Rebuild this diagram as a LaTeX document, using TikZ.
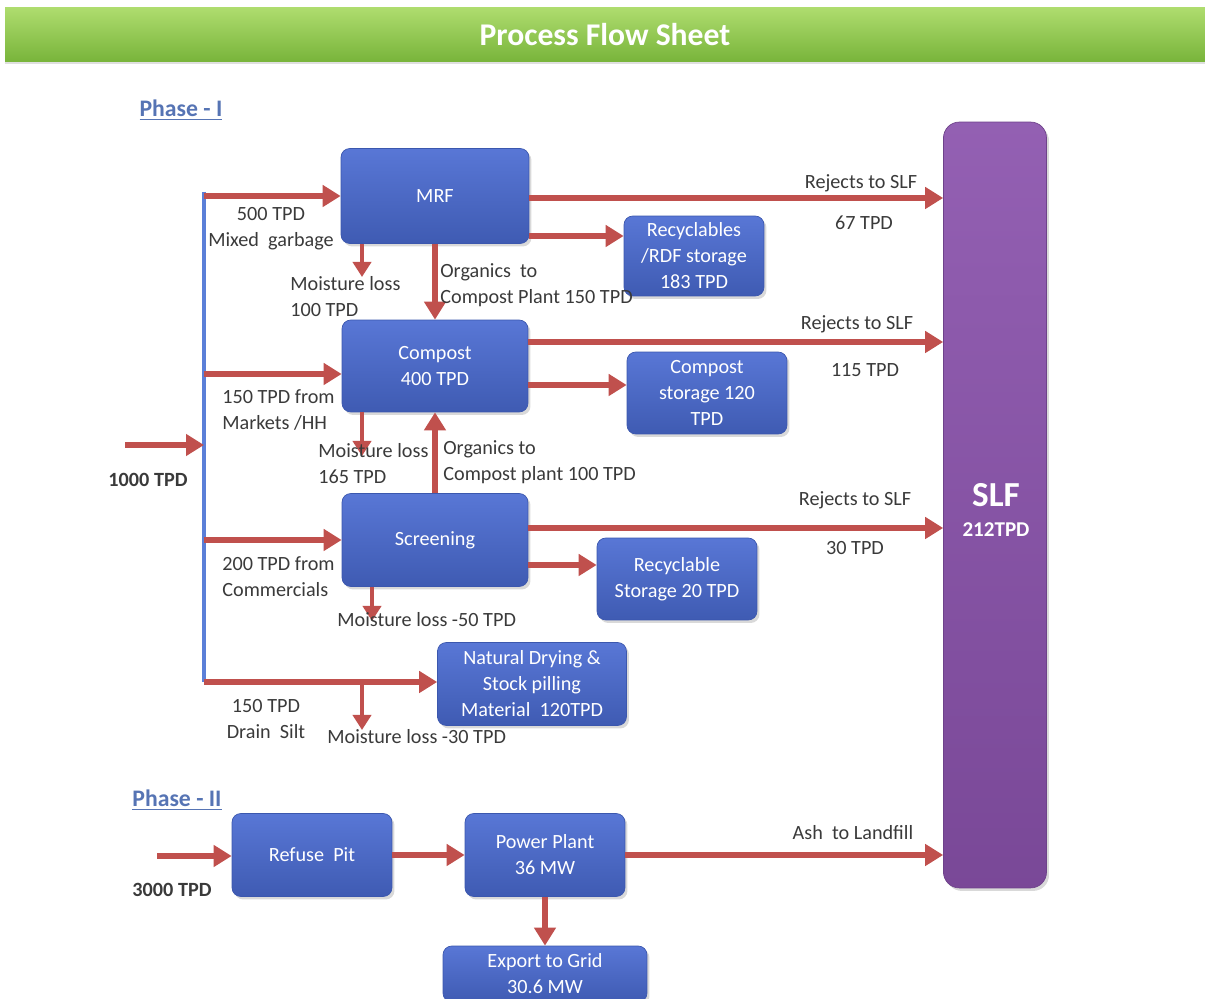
\documentclass[tikz,border=0pt]{standalone}
\usepackage{fontspec}
\setmainfont{Carlito}
\usepackage{tikz}
\usetikzlibrary{positioning,calc,arrows.meta,shadows}
\definecolor{flowred}{HTML}{C0504D}
\definecolor{boxblue}{HTML}{4A6BD2}
\definecolor{boxedge}{HTML}{3B57AE}
\definecolor{slfpurple}{HTML}{8A52AC}
\definecolor{busblue}{HTML}{5B7FD8}
\definecolor{phaseblue}{HTML}{5674B4}
\definecolor{titletop}{HTML}{AEDC6E}
\definecolor{titlebot}{HTML}{78B43A}
\definecolor{labelgray}{HTML}{3A3A3A}

\begin{document}
\begin{tikzpicture}[x=0.02cm, y=-0.02cm,
  box/.style={rectangle, rounded corners=5pt, draw=boxedge, top color=boxblue!92!white,
    bottom color=boxblue!85!black, text=white, align=center,
    font=\fontsize{11.5}{14.8}\selectfont, inner sep=2pt,
    drop shadow={opacity=0.3, shadow xshift=0.05cm, shadow yshift=-0.06cm}},
  lbl/.style={text=labelgray, align=left, inner sep=0pt, font=\fontsize{11.5}{14.8}\selectfont},
  feed/.style={text=labelgray, inner sep=0pt, font=\fontsize{11.5}{14}\selectfont\bfseries},
  phase/.style={text=phaseblue, inner sep=0pt, font=\fontsize{13.5}{16}\selectfont\bfseries},
  flow/.style={draw=flowred, line width=3.3pt, -{Triangle[length=0.36cm,width=0.42cm]}},
  loss/.style={draw=flowred, line width=2.6pt, -{Triangle[length=0.3cm,width=0.36cm]}}
]
\useasboundingbox (0,0) rectangle (1205,999);

% title bar
\node[top color=titletop, bottom color=titlebot, minimum width=24cm, minimum height=1.08cm,
  text=white, font=\fontsize{18}{20}\selectfont\bfseries,
  drop shadow={opacity=0.25, shadow xshift=0cm, shadow yshift=-0.05cm}] (title) at (605,35) {Process Flow Sheet};

\node[phase] (phaseone) at (181,110) {\underline{Phase - I}};
\node[phase] (phasetwo) at (177,800) {\underline{Phase - II}};

% phase I boxes
\node[box, minimum width=3.76cm, minimum height=1.9cm] (mrf) at (435,196) {MRF};
\node[box, minimum width=2.8cm, minimum height=1.6cm] (rdf) at (694,256) {Recyclables\\/RDF storage\\183 TPD};
\node[box, minimum width=3.72cm, minimum height=1.84cm] (comp) at (435,366) {Compost\\400 TPD};
\node[box, minimum width=3.2cm, minimum height=1.64cm] (cstore) at (707,393) {Compost\\storage 120\\TPD};
\node[box, minimum width=3.72cm, minimum height=1.86cm] (scr) at (435,540) {Screening};
\node[box, minimum width=3.2cm, minimum height=1.64cm] (rstore) at (677,579) {Recyclable\\Storage 20 TPD};
\node[box, minimum width=3.78cm, minimum height=1.66cm] (dry) at (532,684) {Natural Drying \&\\Stock pilling\\Material~~120TPD};

% phase II boxes
\node[box, minimum width=3.2cm, minimum height=1.66cm] (pit) at (312,855) {Refuse~~Pit};
\node[box, minimum width=3.2cm, minimum height=1.66cm] (power) at (545,855) {Power Plant\\36 MW};
\node[box, minimum width=4.08cm, minimum height=1.12cm] (grid) at (545,974) {Export to Grid\\30.6 MW};

% landfill
\node[rectangle, rounded corners=9pt, draw=slfpurple!80!black, top color=slfpurple!92!white,
  bottom color=slfpurple!88!black, minimum width=2.06cm, minimum height=15.32cm,
  drop shadow={opacity=0.3, shadow xshift=0.05cm, shadow yshift=-0.06cm}] (slf) at (995,505) {};
\node[text=white, font=\fontsize{20}{24}\selectfont\bfseries] (slfname) at (996,495) {SLF};
\node[text=white, font=\fontsize{12}{14}\selectfont\bfseries] (slfload) at (996,530) {212TPD};

% feed bus
\coordinate (bustop) at (204,192);
\coordinate (busbot) at (204,682);
\draw[busblue, line width=2.2pt] (bustop) -- (busbot);
\coordinate (feedin) at (125,445);
\coordinate (busin) at (204,445);
\coordinate (tapcomp) at (204,374);
\coordinate (tapscr) at (204,540);
\draw[flow] (feedin) -- (busin);
\draw[flow] (bustop |- mrf.west) -- (mrf.west);
\draw[flow] (tapcomp) -- (tapcomp -| comp.west);
\draw[flow] (tapscr) -- (tapscr -| scr.west);
\draw[flow] (busbot) -- (busbot -| dry.west);

% moisture losses
\coordinate (mrfloss) at (362,277);
\coordinate (comploss) at (362,456);
\coordinate (scrloss) at (372,621);
\coordinate (dryloss) at (362,730);
\draw[loss] (mrfloss |- mrf.south) -- (mrfloss);
\draw[loss] (comploss |- comp.south) -- (comploss);
\draw[loss] (scrloss |- scr.south) -- (scrloss);
\draw[loss] (dryloss |- busbot) -- (dryloss);

% organics
\draw[flow] (mrf.south) -- (comp.north);
\draw[flow] (scr.north) -- (comp.south);

% outputs
\coordinate (mrfslf) at ($(mrf.east)+(0,2)$);
\coordinate (mrfrdf) at ($(mrf.east)+(0,40)$);
\coordinate (compslf) at ($(comp.east)+(0,-24)$);
\coordinate (compcs) at ($(comp.east)+(0,19)$);
\coordinate (scrslf) at ($(scr.east)+(0,-12)$);
\coordinate (scrrs) at ($(scr.east)+(0,25)$);
\draw[flow] (mrfslf) -- (mrfslf -| slf.west);
\draw[flow] (mrfrdf) -- (mrfrdf -| rdf.west);
\draw[flow] (compslf) -- (compslf -| slf.west);
\draw[flow] (compcs) -- (compcs -| cstore.west);
\draw[flow] (scrslf) -- (scrslf -| slf.west);
\draw[flow] (scrrs) -- (scrrs -| rstore.west);

% phase II flows
\coordinate (feedtwo) at (157,856);
\draw[flow] (feedtwo) -- (feedtwo -| pit.west);
\draw[flow] (pit.east) -- (power.west);
\draw[flow] (power.east) -- (power.east -| slf.west);
\draw[flow] (power.south) -- (grid.north);

% labels
\node[feed] (feedone) at (148,480) {1000 TPD};
\node[feed] (feedthree) at (172,890) {3000 TPD};
\node[lbl, align=center] (mrfin) at (271,229) {500 TPD\\Mixed~~garbage};
\node[lbl, anchor=west] (mrflosstxt) at (290,297) {Moisture loss\\100 TPD};
\node[lbl, anchor=west] (mrforg) at (440,285) {Organics~~to\\Compost Plant 150 TPD};
\node[lbl] (rejone) at (861,183) {Rejects to SLF};
\node[lbl] (rejoneamt) at (864,223) {67 TPD};
\node[lbl, anchor=west] (compin) at (222,410) {150 TPD from\\Markets /HH};
\node[lbl, anchor=west] (complosstxt) at (318,464) {Moisture loss\\165 TPD};
\node[lbl, anchor=west] (scrorg) at (443,462) {Organics to\\Compost plant 100 TPD};
\node[lbl] (rejtwo) at (857,324) {Rejects to SLF};
\node[lbl] (rejtwoamt) at (865,370) {115 TPD};
\node[lbl] (rejthree) at (855,500) {Rejects to SLF};
\node[lbl] (rejthreeamt) at (855,548) {30 TPD};
\node[lbl, anchor=west] (scrin) at (222,577) {200 TPD from\\Commercials};
\node[lbl, anchor=west] (scrlosstxt) at (337,620) {Moisture loss -50 TPD};
\node[lbl, align=center] (drain) at (266,719) {150 TPD\\Drain~~Silt};
\node[lbl, anchor=west] (drylosstxt) at (327,737) {Moisture loss -30 TPD};
\node[lbl] (ash) at (853,833) {Ash~~to Landfill};
\end{tikzpicture}
\end{document}
